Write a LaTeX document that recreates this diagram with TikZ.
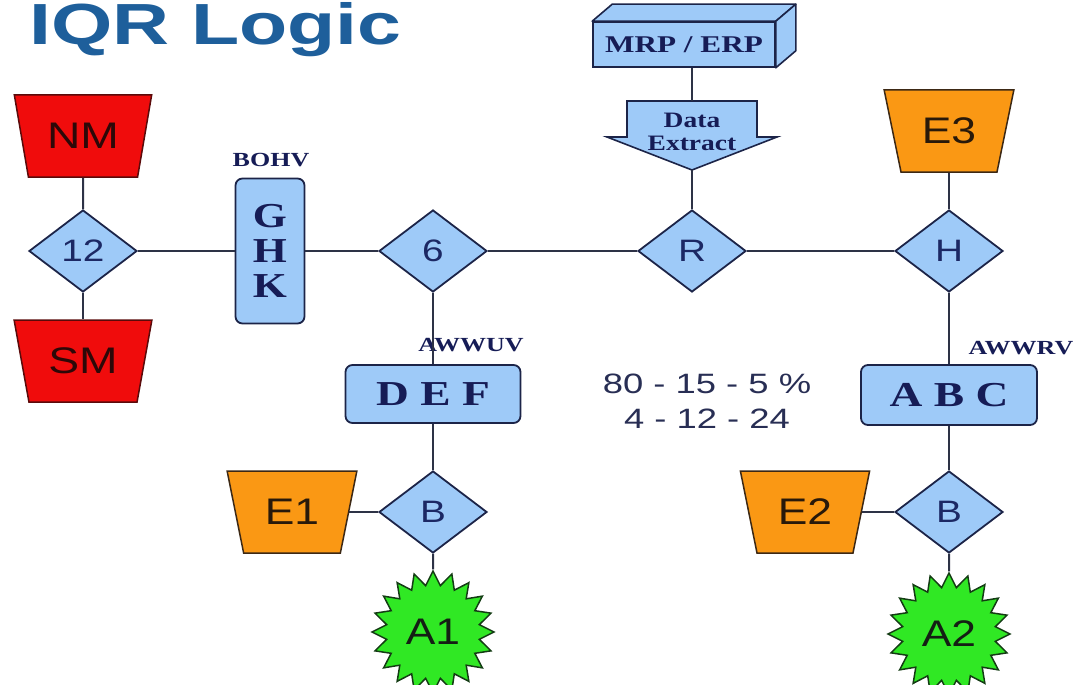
\documentclass[tikz,border=0pt]{standalone}
\usepackage{fontspec}
\setmainfont{Liberation Serif}
\setsansfont{Liberation Sans}
\usetikzlibrary{shapes.geometric,calc}
\definecolor{lb}{RGB}{158,202,248}
\definecolor{bd}{RGB}{28,36,72}
\definecolor{lc}{RGB}{45,50,70}
\definecolor{navy}{RGB}{22,28,86}
\definecolor{dtx}{RGB}{28,40,100}
\definecolor{numtx}{RGB}{40,46,84}
\definecolor{redf}{RGB}{240,12,12}
\definecolor{redb}{RGB}{90,10,10}
\definecolor{orf}{RGB}{250,152,20}
\definecolor{orb}{RGB}{60,40,20}
\definecolor{grf}{RGB}{48,232,36}
\definecolor{grb}{RGB}{20,60,20}
\definecolor{titleblue}{RGB}{30,95,155}
\newcommand{\Xs}[2][1.3]{\scalebox{#1}[1]{#2}}
\begin{document}
\begin{tikzpicture}[x=1pt,y=-1pt,
  conn/.style={draw=lc, line width=2pt},
  dia/.style={diamond, draw=bd, fill=lb, line width=1.8pt, minimum width=108pt, minimum height=82pt, inner sep=0pt, text=dtx, font=\sffamily\fontsize{31}{33}\selectfont},
  trap/.style={trapezium, trapezium stretches=true, shape border rotate=180, trapezium left angle=70, trapezium right angle=70, minimum height=82pt, inner sep=0pt, line width=1.5pt, font=\sffamily\fontsize{37}{39}\selectfont},
  redtrap/.style={trap, draw=redb, fill=redf, minimum width=138pt, text={rgb,255:red,45;green,8;blue,8}},
  ortrap/.style={trap, draw=orb, fill=orf, minimum width=130pt, text={rgb,255:red,40;green,25;blue,10}},
  rbox/.style={rectangle, rounded corners=7pt, draw=bd, fill=lb, line width=1.8pt, text=navy, font=\bfseries\fontsize{35}{35}\selectfont, inner sep=0pt},
  lbl/.style={text=navy, font=\bfseries\fontsize{20}{20}\selectfont, inner sep=0pt},
  burst/.style={star, star points=20, star point ratio=1.3, minimum size=122pt, draw=grb, fill=grf, line width=1.5pt, inner sep=0pt, text={rgb,255:red,20;green,30;blue,20}, font=\sffamily\fontsize{37}{39}\selectfont}
]
\useasboundingbox (0,0) rectangle (1088,685);

% title
\node[anchor=base west, inner sep=0pt, text=titleblue, font=\sffamily\bfseries\fontsize{58}{58}\selectfont] (title) at (29,45) {\Xs[1.36]{IQR Logic}};

% MRP / ERP cuboid
\node[rectangle, draw=bd, fill=lb, line width=1.6pt, minimum width=182pt, minimum height=45pt, inner sep=0pt, text=navy, font=\bfseries\fontsize{24}{24}\selectfont] (MRP) at (684,44.5) {\Xs{MRP / ERP}};
\filldraw[fill=lb, draw=bd, line width=1.6pt, line join=round] (MRP.north west) -- ++(20,-17) -- ($(MRP.north east)+(20,-17)$) -- (MRP.north east) -- cycle;
\filldraw[fill=lb, draw=bd, line width=1.6pt, line join=round] (MRP.north east) -- ++(20,-17) -- ($(MRP.south east)+(20,-17)$) -- (MRP.south east) -- cycle;

% Data extract arrow
\coordinate (DEtop) at (692,101);
\coordinate (DEtip) at (692,170);
\filldraw[fill=lb, draw=bd, line width=1.6pt, line join=miter] (627,101) -- (757,101) -- (757,137) -- (777,137) -- (DEtip) -- (607,137) -- (627,137) -- cycle;
\node[text=navy, font=\bfseries\fontsize{22}{23}\selectfont, align=center, inner sep=0pt] (DE) at (692,132) {\Xs[1.25]{Data}\\\Xs[1.25]{Extract}};

% diamonds
\node[dia] (d12) at (83,251) {\Xs[1.25]{12}};
\node[dia] (d6) at (433,251) {\Xs[1.25]{6}};
\node[dia] (dR) at (692,251) {\Xs[1.25]{R}};
\node[dia] (dH) at (949,251) {\Xs[1.25]{H}};
\node[dia] (dB1) at (433,512) {\Xs[1.25]{B}};
\node[dia] (dB2) at (949,512) {\Xs[1.25]{B}};

% trapezia
\node[redtrap] (NM) at (83,136) {\Xs[1.25]{NM}};
\node[redtrap] (SM) at (83,361) {\Xs[1.25]{SM}};
\node[ortrap] (E1) at (292,512) {\Xs[1.2]{E1}};
\node[ortrap] (E2) at (805,512) {\Xs[1.2]{E2}};
\node[ortrap] (E3) at (949,131) {\Xs[1.2]{E3}};

% boxes
\node[rbox, minimum width=69pt, minimum height=145pt, align=center, font=\bfseries\fontsize{35}{35}\selectfont] (GHK) at (270,251) {\Xs[1.25]{G}\\\Xs[1.25]{H}\\\Xs[1.25]{K}};
\node[rbox, minimum width=175pt, minimum height=58pt] (DEF) at (433,394) {\Xs{D E F}};
\node[rbox, minimum width=176pt, minimum height=60pt] (ABC) at (949,395) {\Xs{A B C}};

% labels
\node[lbl] (bohv) at (271,160) {\Xs{BOHV}};
\node[lbl] (awwuv) at (471,345) {\Xs{AWWUV}};
\node[lbl] (awwrv) at (1021,348) {\Xs{AWWRV}};
\node[text=numtx, font=\sffamily\fontsize{28}{35}\selectfont, align=center, inner sep=0pt] (pct) at (707,401) {\Xs{80 - 15 - 5 \%}\\\Xs{4 - 12 - 24}};

% stars
\node[burst] (A1) at (433,632) {\Xs[1.2]{A1}};
\node[burst] (A2) at (949,634) {\Xs[1.2]{A2}};

% connectors
\draw[conn] (NM) -- (d12);
\draw[conn] (d12) -- (SM);
\draw[conn] (d12) -- (GHK);
\draw[conn] (GHK) -- (d6);
\draw[conn] (d6) -- (dR);
\draw[conn] (dR) -- (dH);
\draw[conn] (dH) -- (E3);
\draw[conn] (d6) -- (DEF);
\draw[conn] (DEF) -- (dB1);
\draw[conn] (dB1) -- (E1);
\draw[conn] (dB1) -- (A1);
\draw[conn] (dH) -- (ABC);
\draw[conn] (ABC) -- (dB2);
\draw[conn] (dB2) -- (E2);
\draw[conn] (dB2) -- (A2);
\draw[conn] (MRP.south -| DEtop) -- (DEtop);
\draw[conn] (DEtip) -- (dR);
\end{tikzpicture}
\end{document}
